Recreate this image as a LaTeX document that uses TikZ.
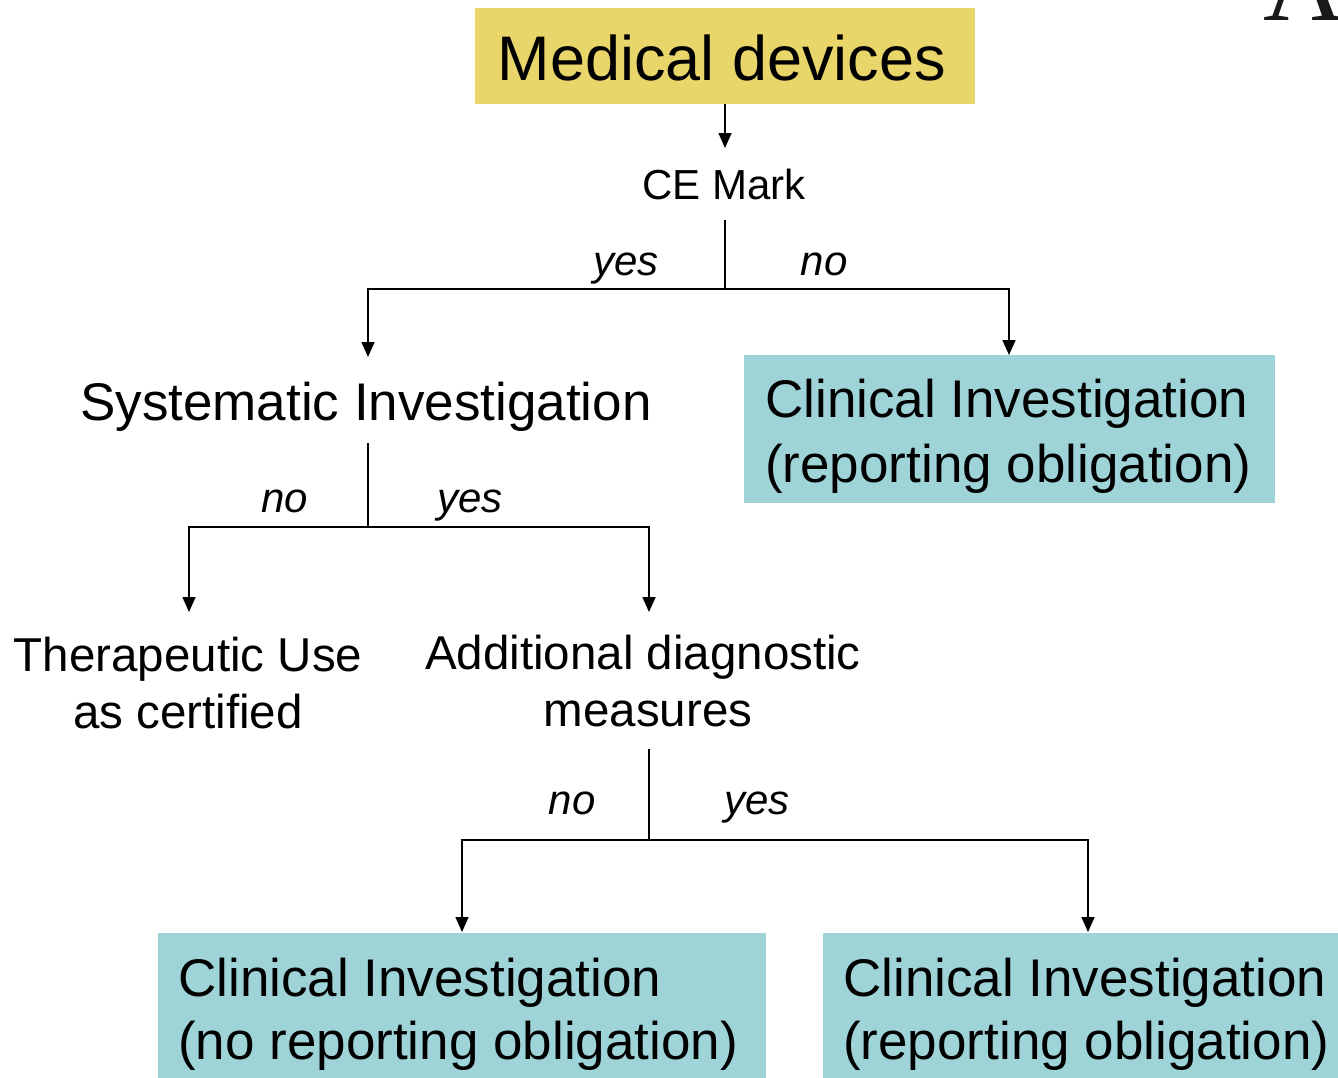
\documentclass[tikz,border=0pt]{standalone}
\usepackage{fontspec}
\setmainfont{Liberation Sans}
\newfontfamily\serifA{Liberation Serif}
\usetikzlibrary{arrows.meta}
\definecolor{boxyellow}{HTML}{E9D66B}
\definecolor{boxteal}{HTML}{9ED3D7}
\tikzset{
  conn/.style={line width=1.6pt, draw=black},
  arr/.style={conn, -{Triangle[length=15pt,width=13pt]}},
  lbl/.style={inner sep=0pt, anchor=base, font=\fontsize{42}{50}\selectfont\itshape},
  txt/.style={inner sep=0pt, anchor=base},
  big/.style={font=\fontsize{53}{64}\selectfont},
  mid/.style={font=\fontsize{47.5}{56}\selectfont},
  ybox/.style={fill=boxyellow, draw=none, inner sep=0pt, anchor=north west},
  tbox/.style={fill=boxteal, draw=none, inner sep=0pt, anchor=north west},
}
\begin{document}
\begin{tikzpicture}[x=1pt, y=-1pt]
\clip (0,0) rectangle (1338,1077);
\fill[white] (0,0) rectangle (1338,1077);

% corner letter
\node[txt, anchor=base west, font=\serifA\fontsize{112}{112}\selectfont, text=black!90] (cornerA) at (1263,20) {A};

% boxes
\node[ybox, minimum width=500pt, minimum height=96pt] (md) at (475,8) {};
\node[txt, font=\fontsize{63}{70}\selectfont] (mdtext) at (722,80) {Medical devices};

\node[tbox, minimum width=531pt, minimum height=148pt] (ciR) at (744,355) {};
\node[txt, big, anchor=base west] (ciR1) at (765,417) {Clinical Investigation};
\node[txt, big, anchor=base west] (ciR2) at (765,482) {(reporting obligation)};

\node[tbox, minimum width=608pt, minimum height=160pt] (ciNo) at (158,933) {};
\node[txt, big, anchor=base west] (ciNo1) at (178,996) {Clinical Investigation};
\node[txt, big, anchor=base west] (ciNo2) at (178,1059) {(no reporting obligation)};

\node[tbox, minimum width=530pt, minimum height=160pt] (ciYes) at (823,933) {};
\node[txt, big, anchor=base west] (ciYes1) at (843,996) {Clinical Investigation};
\node[txt, big, anchor=base west] (ciYes2) at (843,1059) {(reporting obligation)};

% decision texts
\node[txt, font=\fontsize{42}{50}\selectfont] (ce) at (724,199) {CE Mark};
\node[txt, big] (si) at (366,420) {Systematic Investigation};
\node[txt, mid] (tu1) at (188,671) {Therapeutic Use};
\node[txt, mid] (tu2) at (188,728) {as certified};
\node[txt, mid] (ad1) at (643,669) {Additional diagnostic};
\node[txt, mid] (ad2) at (648,726) {measures};

% connector points
\coordinate (mdB) at (725,104);
\coordinate (ceT) at (725,148);
\coordinate (ceB) at (725,220);
\coordinate (ceJ) at (725,289);
\coordinate (siT) at (368,357);
\coordinate (ciRT) at (1009,355);
\coordinate (siB) at (368,443);
\coordinate (siJ) at (368,527);
\coordinate (tuT) at (189,612);
\coordinate (adT) at (649,612);
\coordinate (adB) at (649,749);
\coordinate (adJ) at (649,840);
\coordinate (ciNoT) at (462,932);
\coordinate (ciYesT) at (1088,932);

% connectors
\draw[arr] (mdB) -- (ceT);
\draw[conn] (ceB) -- (ceJ);
\draw[arr] (ceJ) -| (siT);
\draw[arr] (ceJ) -| (ciRT);
\draw[conn] (siB) -- (siJ);
\draw[arr] (siJ) -| (tuT);
\draw[arr] (siJ) -| (adT);
\draw[conn] (adB) -- (adJ);
\draw[arr] (adJ) -| (ciNoT);
\draw[arr] (adJ) -| (ciYesT);

% branch labels
\node[lbl] (l1) at (626,275) {yes};
\node[lbl] (l2) at (824,275) {no};
\node[lbl] (l3) at (285,512) {no};
\node[lbl] (l4) at (470,512) {yes};
\node[lbl] (l5) at (572,814) {no};
\node[lbl] (l6) at (757,814) {yes};
\end{tikzpicture}
\end{document}
